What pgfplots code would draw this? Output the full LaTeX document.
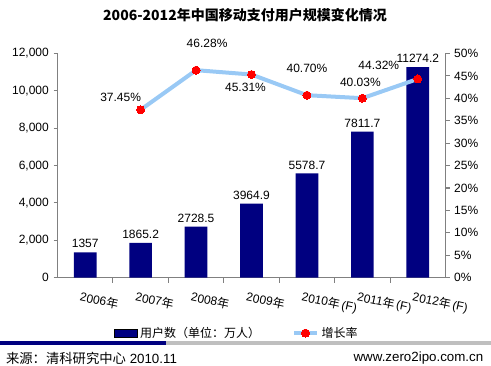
\documentclass[border=0pt]{standalone}
\usepackage{fontspec}
\setmainfont{Liberation Sans}
\newfontfamily\cjk{Noto Sans CJK SC}
\usepackage{pgfplots}
\pgfplotsset{compat=1.18}
\pgfplotsset{/pgf/number format/assume math mode=true}
\definecolor{barblue}{HTML}{000080}
\definecolor{lineblue}{HTML}{99C9F5}
\definecolor{axgray}{HTML}{808080}
\begin{document}
\begin{tikzpicture}[font=\fontsize{9}{11}\selectfont]
\path[use as bounding box] (0,0) rectangle (368.25pt,274.5pt);
\node[font=\cjk\bfseries\fontsize{10.5}{12}\selectfont] at (183.75pt,263.25pt) {2006-2012年中国移动支付用户规模变化情况};
\begin{axis}[
  at={(43.125pt,66.225pt)}, anchor=south west,
  scale only axis, width=291pt, height=168.15pt,
  xmin=-0.5, xmax=6.5, ymin=0, ymax=12000,
  axis x line*=bottom, axis y line*=left,
  axis line style={axgray, line width=0.8pt, -},
  ytick={0,2000,...,12000},
  scaled y ticks=false,
  yticklabel style={/pgf/number format/1000 sep={,}},
  xtick={0,...,6},
  xticklabels={2006{\cjk 年},2007{\cjk 年},2008{\cjk 年},2009{\cjk 年},2010{\cjk 年}\,(F),2011{\cjk 年}\,(F),2012{\cjk 年}\,(F)},
  major x tick style={draw=none},
  minor xtick={0.5,1.5,...,5.5},
  tick align=outside,
  major tick length=3pt, minor tick length=3.75pt,
  tick style={axgray, line width=0.8pt},
  xticklabel style={rotate=-12, anchor=north west, inner sep=0pt, xshift=-1.5pt, yshift=-7pt},
]
\addplot[ybar, bar width=17pt, fill=barblue, draw=none,
  nodes near coords, point meta=explicit symbolic,
  every node near coord/.append style={text=black, inner sep=3pt}]
  table[meta=lab]{
x y lab
0 1357 1357
1 1865.2 1865.2
2 2728.5 2728.5
3 3964.9 3964.9
4 5578.7 5578.7
5 7811.7 7811.7
6 11274.2 11274.2
};
\end{axis}
\begin{axis}[
  at={(43.125pt,66.225pt)}, anchor=south west,
  scale only axis, width=291pt, height=168.15pt,
  xmin=-0.5, xmax=6.5, ymin=0, ymax=50,
  axis y line*=right, axis x line=none,
  axis line style={axgray, line width=0.8pt, -},
  ytick={0,5,...,50},
  yticklabel={\pgfmathprintnumber{\tick}\%},
  tick align=outside, major tick length=3pt,
  tick style={axgray, line width=0.8pt},
  legend style={at={(0.463,-0.247)}, anchor=center, draw=none, fill=none,
    legend columns=2, font=\cjk\fontsize{9}{11}\selectfont,
    /tikz/every even column/.append style={column sep=22pt}},
  legend cell align=left,
]
\addlegendimage{area legend, fill=barblue, draw=none}
\addlegendentry{用户数（单位：万人）}
\addplot[lineblue, line width=3pt, mark=*, mark size=3pt,
  mark options={fill=red, draw=red, line width=0pt},
  point meta=y,
  visualization depends on=\thisrow{dx}\as\dx,
  visualization depends on=\thisrow{dy}\as\dy,
  nodes near coords={\pgfmathprintnumber[fixed,fixed zerofill,precision=2]{\pgfplotspointmeta}\%},
  every node near coord/.append style={text=black, anchor=center, xshift=\dx pt, yshift=\dy pt, font=\rmfamily\fontsize{9}{11}\selectfont}]
  table{
x y dx dy
1 37.45 -15 9
2 46.28 8.25 20.25
3 45.31 -4.5 -9.75
4 40.70 0 20.25
5 40.03 -1.5 12
6 44.32 -29.25 10.5
};
\addlegendentry{增长率}
\end{axis}
\fill[barblue] (0,16.1pt) rectangle (124.5pt,18.4pt);
\fill[black!25] (124.5pt,16.1pt) rectangle (368.25pt,18.4pt);
\node[anchor=west, font=\fontsize{10}{12}\selectfont] at (1pt,6pt) {{\cjk 来源：清科研究中心} 2010.11};
\node[anchor=east, font=\fontsize{10}{12}\selectfont] at (366pt,6pt) {www.zero2ipo.com.cn};
\end{tikzpicture}
\end{document}
